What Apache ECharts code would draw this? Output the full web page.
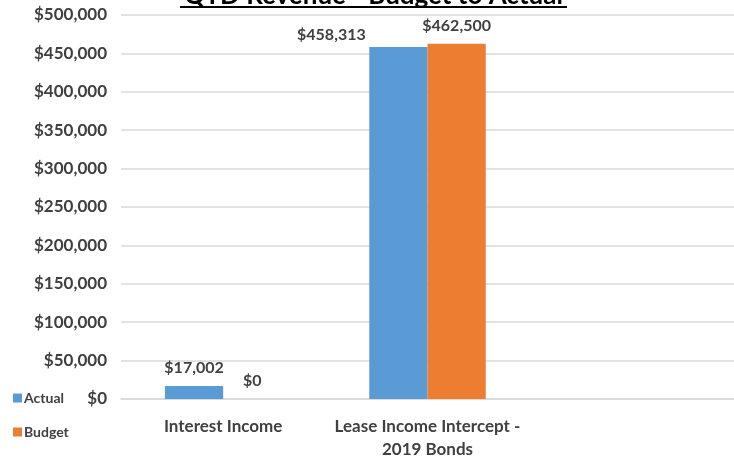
<!DOCTYPE html>
<html>
<head>
<meta charset="utf-8">
<script src="https://cdn.jsdelivr.net/npm/echarts@6/dist/echarts.min.js"></script>
<style>
html,body{margin:0;padding:0;background:#fff;}
#chart{width:734px;height:461px;}
</style>
</head>
<body>
<div id="chart"></div>
<script>
var titleText = 'QTD Revenue - Budget to Actual';
var categories = ['Interest Income', 'Lease Income Intercept -\n2019 Bonds', ''];
var seriesNames = ['Actual', 'Budget'];
var actualValues = [17002, 458313, null];
var budgetValues = [0, 462500, null];
var yTicks = [0, 50000, 100000, 150000, 200000, 250000, 300000, 350000, 400000, 450000, 500000];

function fmt(v) {
  return '$' + Math.round(v).toString().replace(/\B(?=(\d{3})+(?!\d))/g, ',');
}

var chart = echarts.init(document.getElementById('chart'));
var FONT = 'Lato';
var labelBase = {
  show: true, position: 'top', distance: 10,
  fontFamily: FONT, fontWeight: 'bold', fontSize: 16, color: '#404040',
  formatter: function (p) { return p.value == null ? '' : fmt(p.value); }
};

var actualData = actualValues.map(function (v, i) {
  if (i === 1) return { value: v, label: { offset: [-67, 6] } };
  return v;
});

chart.setOption({
  animation: false,
  backgroundColor: '#ffffff',
  graphic: [
    { type: 'text', x: 373.5, y: -17,
      style: { text: titleText, fontFamily: FONT, fontWeight: 'bold', fontSize: 26, fill: '#000', textAlign: 'center' } },
    { type: 'line', shape: { x1: 180, y1: 7, x2: 567, y2: 7 }, style: { stroke: '#000', lineWidth: 2 } }
  ],
  legend: {
    orient: 'vertical', left: 8, top: 386, icon: 'rect',
    itemWidth: 9, itemHeight: 9, itemGap: 20,
    textStyle: { fontFamily: FONT, fontWeight: 'bold', fontSize: 14, color: '#404040', padding: [0, 0, 0, -3] },
    data: seriesNames
  },
  grid: { left: 121, right: -2, top: 15, bottom: 58.5, containLabel: false },
  xAxis: {
    type: 'category', data: categories,
    axisLine: { show: true, lineStyle: { color: '#d9d9d9', width: 1.5 } },
    axisTick: { show: false },
    axisLabel: { interval: 0, margin: 16, fontFamily: FONT, fontWeight: 'bold', fontSize: 17, color: '#404040', lineHeight: 23 }
  },
  yAxis: {
    type: 'value', min: yTicks[0], max: yTicks[yTicks.length - 1], interval: yTicks[1] - yTicks[0],
    axisLine: { show: false }, axisTick: { show: false },
    splitLine: { lineStyle: { color: '#d9d9d9', width: 1.5 } },
    axisLabel: { margin: 14, fontFamily: FONT, fontWeight: 'bold', fontSize: 17, color: '#404040', formatter: fmt }
  },
  series: [
    { name: seriesNames[0], type: 'bar', data: actualData, barGap: '0%', barCategoryGap: '43%',
      itemStyle: { color: '#5b9bd5' }, label: labelBase },
    { name: seriesNames[1], type: 'bar', data: budgetValues, barGap: '0%', barCategoryGap: '43%',
      itemStyle: { color: '#ed7d31' }, label: labelBase }
  ]
});
</script>
</body>
</html>
